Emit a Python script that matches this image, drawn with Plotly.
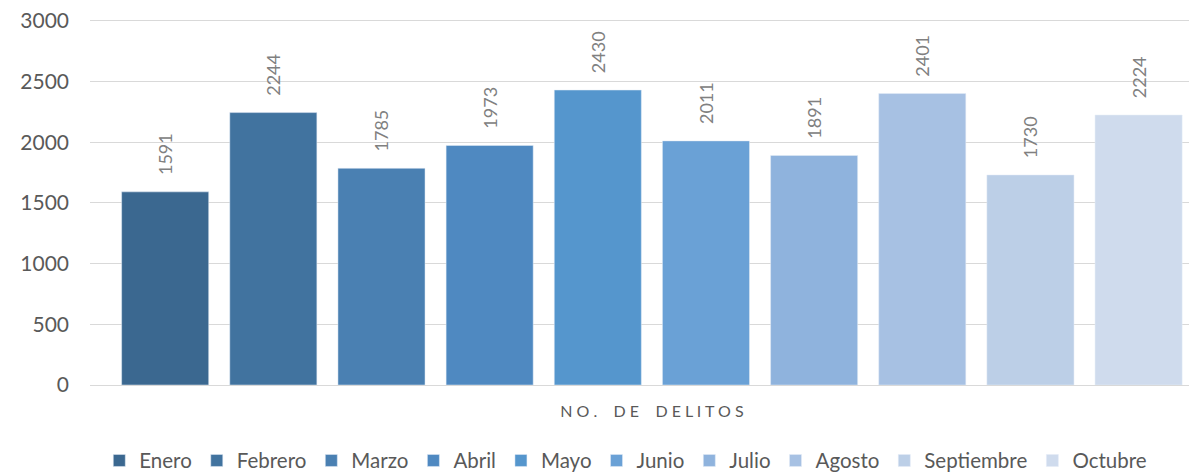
import plotly.graph_objects as go

MONTHS = ["Enero", "Febrero", "Marzo", "Abril", "Mayo", "Junio",
          "Julio", "Agosto", "Septiembre", "Octubre"]
DELITOS = [1591, 2244, 1785, 1973, 2430, 2011, 1891, 2401, 1730, 2224]
CATEGORY = ["NO. DE DELITOS"]
COLORS = ["#3b6890", "#41739f", "#4a80b2", "#4f89c1", "#5596cd",
          "#6aa1d6", "#8fb3dd", "#a7c1e3", "#bccfe7", "#cfdbed"]

PAD = "\u00a0" * 3

fig = go.Figure()
for month, value, color in zip(MONTHS, DELITOS, COLORS):
    fig.add_trace(
        go.Bar(
            name=month,
            x=CATEGORY,
            y=[value],
            marker_color=color,
            text=[f"{PAD}{value}"],
            textposition="outside",
            textangle=-90,
            constraintext="none",
            textfont=dict(size=18, color="#808080"),
            cliponaxis=False,
        )
    )

# page body has an 8px margin, so the figure is sized a bit smaller
fig.update_layout(
    width=1189,
    height=467,
    barmode="group",
    bargap=0,
    bargroupgap=0.195,
    plot_bgcolor="white",
    paper_bgcolor="white",
    font=dict(family="Lato, Liberation Sans, sans-serif", color="#595959"),
    margin=dict(l=82, r=0, t=11, b=90, autoexpand=False),
    legend=dict(
        orientation="h",
        x=0.484,
        xanchor="center",
        y=-0.152,
        yanchor="top",
        font=dict(size=20.5, color="#595959"),
        itemwidth=30,
        tracegroupgap=0,
    ),
    showlegend=True,
)

fig.update_xaxes(
    automargin=False,
    range=[-0.5195, 0.504],
    tickvals=CATEGORY,
    ticktext=[" ".join("NO. DE DELITOS").replace("   ", "    ")],
    tickfont=dict(size=16, color="#595959"),
    ticklabelstandoff=12,
    showline=True,
    linecolor="#d9d9d9",
    linewidth=1,
    ticks="",
)
fig.update_yaxes(
    automargin=False,
    range=[0, 3015],
    tickvals=[0, 500, 1000, 1500, 2000, 2500, 3000],
    ticklabeloverflow="allow",
    showgrid=True,
    gridcolor="#d9d9d9",
    gridwidth=1,
    zeroline=False,
    tickfont=dict(size=21, color="#595959"),
    ticklabelstandoff=20,
)

fig.write_html("out.html")
